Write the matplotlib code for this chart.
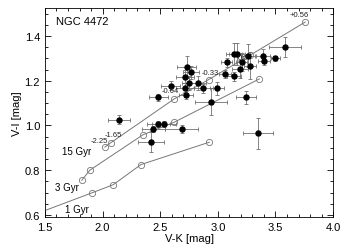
import numpy as np
import matplotlib
matplotlib.use('Agg')
import matplotlib.pyplot as plt
from matplotlib.ticker import MultipleLocator

plt.rcParams['font.family'] = ['Liberation Sans', 'DejaVu Sans']

# globular clusters in NGC 4472 (V-K, V-I with errors)
vk = [2.145, 2.484, 2.533, 2.44, 2.685, 2.42, 3.35, 2.484, 2.59, 2.73,
      2.765, 2.715, 2.753, 2.83, 2.715, 2.724, 2.875, 2.995, 2.94, 3.245,
      3.06, 3.14, 3.19, 3.077, 3.207, 3.14, 3.167, 3.265, 3.28, 3.395,
      3.40, 3.50, 3.583]
vi = [1.026, 1.007, 1.007, 0.984, 0.984, 0.925, 0.965, 1.126, 1.178, 1.26,
      1.238, 1.218, 1.19, 1.19, 1.168, 1.138, 1.166, 1.166, 1.106, 1.126,
      1.23, 1.22, 1.253, 1.282, 1.282, 1.32, 1.32, 1.312, 1.267, 1.312,
      1.29, 1.30, 1.35]
vk_err = [0.094, 0.10, 0.10, 0.10, 0.14, 0.11, 0.13, 0.08, 0.08, 0.08,
          0.07, 0.08, 0.06, 0.07, 0.08, 0.06, 0.08, 0.06, 0.14, 0.09,
          0.05, 0.06, 0.07, 0.05, 0.05, 0.07, 0.07, 0.06, 0.05, 0.06,
          0.05, 0.04, 0.14]
vi_err = [0.02, 0.015, 0.015, 0.015, 0.02, 0.045, 0.07, 0.015, 0.02, 0.05,
          0.03, 0.03, 0.03, 0.03, 0.02, 0.02, 0.02, 0.03, 0.06, 0.03,
          0.02, 0.02, 0.04, 0.02, 0.04, 0.05, 0.05, 0.05, 0.06, 0.03,
          0.02, 0.01, 0.045]

# SSP model tracks
vk_15 = [2.02, 2.07, 2.62, 2.92, 3.28, 3.757]
vi_15 = [0.903, 0.922, 1.118, 1.205, 1.314, 1.462]
feh_15 = ['-2.25', '-1.65', '-0.64', '-0.33', '0.0', '+0.56']
vk_3 = [1.82, 1.89, 2.35, 2.62, 3.36]
vi_3 = [0.755, 0.80, 0.958, 1.014, 1.208]
vk_1 = [1.40, 1.905, 2.093, 2.333, 2.926]
vi_1 = [0.60, 0.698, 0.735, 0.825, 0.925]

fig = plt.figure(figsize=(3.51, 2.51), dpi=100)
ax = fig.add_axes([0.128, 0.131, 0.821, 0.833])

for xs, ys in [(vk_15, vi_15), (vk_3, vi_3), (vk_1, vi_1)]:
    ax.plot(xs, ys, '-', color='#777777', lw=0.7, marker='o', ms=4.5,
            mfc='none', mec='#777777', mew=0.6, zorder=2)

ax.errorbar(vk, vi, xerr=vk_err, yerr=vi_err, fmt='o', color='black', ms=3.6,
            ecolor='#707070', elinewidth=0.6, capsize=1.5, capthick=0.6, zorder=3)

# metallicity labels on the 15 Gyr track
lab_pos = [(1.90, 0.925), (2.02, 0.952), (2.51, 1.150), (2.86, 1.232),
           (3.17, 1.296), (3.62, 1.488)]
for t, (x, y) in zip(feh_15, lab_pos):
    ax.text(x, y, t, fontsize=5.5, color='#222222', zorder=4)

ax.text(1.65, 0.873, '15 Gyr', fontsize=7)
ax.text(1.59, 0.712, '3 Gyr', fontsize=7)
ax.text(1.67, 0.615, '1 Gyr', fontsize=7)
ax.text(1.60, 1.453, 'NGC 4472', fontsize=8)

ax.set_xlim(1.5, 4.0)
ax.set_ylim(0.59, 1.525)
ax.xaxis.set_major_locator(MultipleLocator(0.5))
ax.xaxis.set_minor_locator(MultipleLocator(0.1))
ax.yaxis.set_major_locator(MultipleLocator(0.2))
ax.yaxis.set_minor_locator(MultipleLocator(0.05))
ax.tick_params(which='both', direction='in', top=True, right=True, labelsize=8, width=0.6)
ax.tick_params(which='major', length=4)
ax.tick_params(which='minor', length=2)
for s in ax.spines.values():
    s.set_linewidth(0.6)
ax.set_xlabel('V-K [mag]', fontsize=8, labelpad=1)
ax.set_ylabel('V-I [mag]', fontsize=8, labelpad=2)

fig.savefig('out.png', dpi=100)
